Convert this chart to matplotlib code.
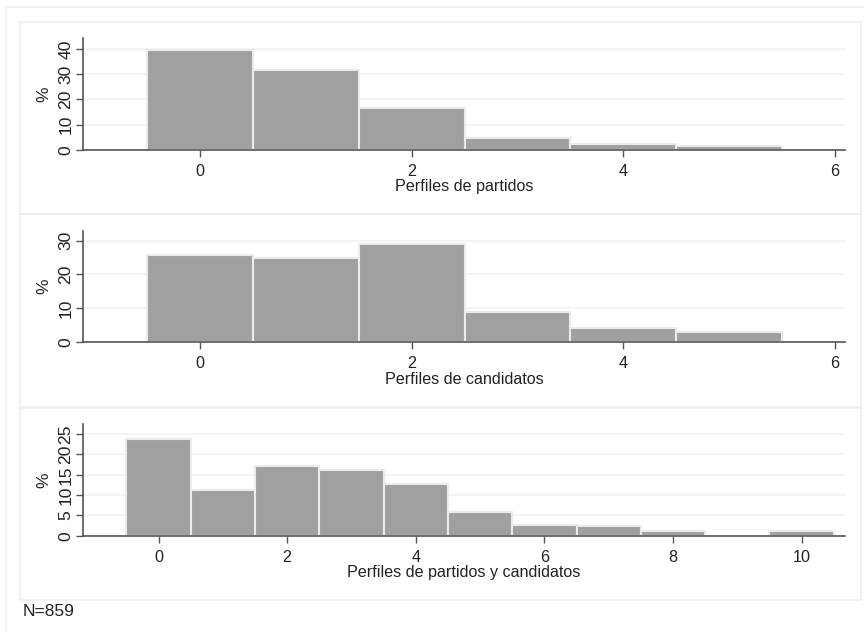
import numpy as np
import matplotlib.pyplot as plt
from matplotlib.patches import Rectangle

plt.rcParams['font.family'] = ['Liberation Sans', 'DejaVu Sans']

# porcentajes
x_partidos = [0, 1, 2, 3, 4, 5]
pct_partidos = [39.7, 31.6, 16.8, 4.8, 2.3, 1.6]

x_candidatos = [0, 1, 2, 3, 4, 5]
pct_candidatos = [25.8, 24.9, 28.9, 8.9, 4.3, 3.1]

x_ambos = [0, 1, 2, 3, 4, 5, 6, 7, 8, 9, 10]
pct_ambos = [23.9, 11.3, 17.2, 16.1, 12.7, 5.9, 2.6, 2.5, 1.2, 0, 1.2]

etiquetas = ['Perfiles de partidos', 'Perfiles de candidatos',
             'Perfiles de partidos y candidatos']
nota = 'N=859'

W, H = 864, 632
BAR = '#a0a0a0'
EDGE = '#ebebeb'
GRID = '#eef3f5'
AXC = '#555555'
TXT = '#222222'
FS = 11.6

fig = plt.figure(figsize=(W / 100, H / 100), dpi=100)
fig.patch.set_facecolor('white')

# marcos estilo Stata (en pixeles)
def caja(x0, y0, x1, y1):
    fig.patches.append(Rectangle((x0 / W, 1 - y1 / H), (x1 - x0) / W, (y1 - y0) / H,
                                 transform=fig.transFigure, fill=False,
                                 edgecolor='#eaf0f2', lw=1.2))

caja(6, 7, 880, 650)
caja(20, 21.7, 861, 213.5)
caja(20, 214.5, 861, 407)
caja(20, 407.5, 861, 600)


def panel(top, bottom, xs, vals, xlim, ylim, yticks, xticks, label):
    left, right = 83.3, 844.7
    ax = fig.add_axes([left / W, 1 - bottom / H, (right - left) / W, (bottom - top) / H])
    ax.set_facecolor('none')
    ax.bar(xs, vals, width=1.0, color=BAR, edgecolor=EDGE, linewidth=1.5, zorder=2)
    ax.set_xlim(*xlim)
    ax.set_ylim(*ylim)
    ax.set_yticks(yticks)
    ax.set_xticks(xticks)
    ax.yaxis.grid(True, color=GRID, lw=1.2, zorder=0)
    ax.set_axisbelow(True)
    for s in ['top', 'right']:
        ax.spines[s].set_visible(False)
    for s in ['left', 'bottom']:
        ax.spines[s].set_color(AXC)
        ax.spines[s].set_linewidth(1.2)
    ax.tick_params(axis='both', colors=AXC, labelcolor=TXT, length=5, width=1)
    ax.tick_params(axis='x', labelsize=FS, pad=5)
    ax.tick_params(axis='y', labelsize=12.6, pad=2)
    for t in ax.get_yticklabels():
        t.set_rotation(90)
        t.set_va('center')
    ax.set_ylabel('%', fontsize=12.6, color=TXT)
    ax.yaxis.set_label_coords(-0.042, 0.5)
    ax.set_xlabel(label, fontsize=FS, color=TXT, labelpad=0.3)
    return ax


panel(38.3, 150, x_partidos, pct_partidos, (-1.1, 6.09), (0, 44.2),
      [0, 10, 20, 30, 40], [0, 2, 4, 6], etiquetas[0])
panel(231, 342.3, x_candidatos, pct_candidatos, (-1.1, 6.09), (0, 32.8),
      [0, 10, 20, 30], [0, 2, 4, 6], etiquetas[1])
panel(424, 535.7, x_ambos, pct_ambos, (-1.17, 10.67), (0, 27.5),
      [0, 5, 10, 15, 20, 25], [0, 2, 4, 6, 8, 10], etiquetas[2])

fig.text(23 / W, 1 - 612 / H, nota, fontsize=12.5, color=TXT, va='center', ha='left')

fig.savefig('out.png', dpi=100, facecolor='white')
